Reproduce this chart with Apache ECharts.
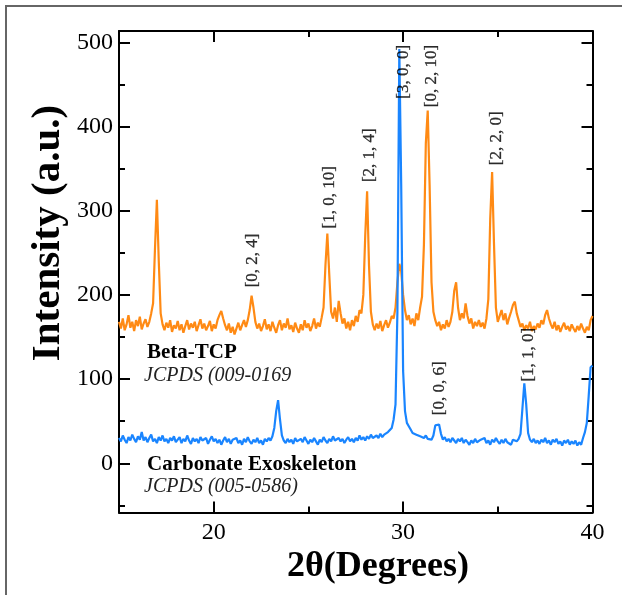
<!DOCTYPE html>
<html>
<head>
<meta charset="utf-8">
<script src="https://cdn.jsdelivr.net/npm/echarts@6/dist/echarts.min.js"></script>
<style>
html,body{margin:0;padding:0;background:#fff;}
#c{width:622px;height:595px;}
</style>
</head>
<body>
<div id="c"></div>
<script>
// 2θ sampling of both patterns
var thetaStart = 15.0;
var thetaStep = 0.1;

// Beta-TCP (orange) intensity, 15.0 .. 40.0 step 0.1
var betaTCP = [
168,160,172,158,165,176,161,168,157,170,
163,174,159,166,171,162,168,178,190,255,
313,240,178,165,158,167,161,170,156,164,
160,169,158,165,155,163,170,159,166,161,
168,157,164,171,160,166,158,163,169,157,
165,160,170,176,181,172,164,158,166,155,
162,153,160,167,158,164,170,162,170,182,
199,185,168,160,166,157,163,171,159,165,
157,168,161,155,164,170,158,166,161,172,
159,164,156,167,160,155,165,158,170,161,
166,157,163,172,160,167,162,173,185,235,
273,225,180,172,185,168,193,178,166,172,
160,168,158,170,163,175,168,182,178,200,
270,323,235,180,165,158,166,160,169,157,
164,170,161,167,175,172,185,215,237,228,
200,182,170,176,165,172,163,178,170,185,
198,260,380,419,330,215,180,170,163,168,
158,165,160,170,162,168,180,205,215,185,
170,178,172,190,175,166,172,160,168,163,
170,162,167,160,172,195,290,346,260,185,
168,175,182,170,178,165,173,180,188,192,
178,170,162,166,158,164,160,168,157,163,
159,166,161,170,165,176,182,172,165,160,
168,158,164,156,162,167,159,163,157,165,
160,156,163,158,166,160,155,162,158,170,
175
];

// Carbonate exoskeleton (blue) intensity, 15.0 .. 40.0 step 0.1
var carbonate = [
30,26,33,28,24,31,27,34,29,25,
32,28,37,27,31,25,30,34,26,29,
24,31,27,33,26,29,24,30,27,32,
25,28,31,24,29,26,33,27,23,30,
26,29,24,31,27,25,30,23,28,32,
26,29,24,28,22,27,31,25,29,23,
28,26,30,24,27,22,29,25,31,26,
23,28,25,30,24,27,22,29,26,30,
27,32,42,62,75,52,33,27,24,29,
25,28,23,30,26,24,29,25,31,27,
23,28,25,30,26,22,28,25,31,27,
24,29,26,32,27,25,30,26,29,24,
28,31,26,29,25,30,27,33,28,31,
27,32,29,34,30,28,33,30,35,31,
34,32,37,35,42,52,70,180,492,330,
110,62,48,44,40,36,38,34,36,32,
34,30,33,29,31,28,33,45,47,46,
35,28,31,26,29,25,30,27,24,29,
26,30,24,28,25,22,27,24,29,25,
23,28,26,30,24,27,22,28,25,30,
26,23,28,24,29,25,27,22,28,30,
26,29,35,65,95,70,36,28,25,29,
24,27,23,28,25,30,24,27,22,28,
25,29,23,26,21,27,24,28,22,26,
23,27,21,25,22,30,37,48,80,114,
116
];

// Miller index annotations: [2θ, intensity at label base]
var hklNames = ['[0, 2, 4]','[1, 0, 10]','[2, 1, 4]','[3, 0, 0]','[0, 2, 10]','[2, 2, 0]','[0, 0, 6]','[1, 1, 0]'];
var hklTheta = [22.07, 26.13, 28.24, 30.0, 31.5, 34.93, 31.94, 36.6];
var hklBase  = [209, 279, 334, 433, 423, 354, 57, 97];

// axis ticks
var xMajor = [20, 30, 40];
var xMinor = [25, 35];
var yMajor = [0, 100, 200, 300, 400, 500];
var yMinor = [-50, 50, 150, 250, 350, 450];

var FONT = "'Liberation Serif','Times New Roman',serif";

function pairs(arr){
  var out = [];
  for (var i = 0; i < arr.length; i++) {
    out.push([+(thetaStart + i * thetaStep).toFixed(2), arr[i]]);
  }
  return out;
}
var hklData = hklNames.map(function(n, i){ return {name: n, value: [hklTheta[i], hklBase[i]]}; });

var XMIN = 15, XMAX = 40, YMIN = -58.5, YMAX = 513.5;

function xAx(pos, ticks, len, showLine, labels){
  return {
    type: 'value', position: pos, min: XMIN, max: XMAX,
    axisLine: {show: showLine, onZero: false, lineStyle: {color: '#000', width: 2}},
    axisTick: {show: true, inside: true, length: len, customValues: ticks, lineStyle: {color: '#000', width: 2}},
    axisLabel: labels ? {show: true, customValues: labels, color: '#000', fontFamily: FONT, fontSize: 24, margin: 8} : {show: false},
    splitLine: {show: false}
  };
}
function yAx(pos, ticks, len, showLine, labels){
  return {
    type: 'value', position: pos, min: YMIN, max: YMAX,
    axisLine: {show: showLine, onZero: false, lineStyle: {color: '#000', width: 2}},
    axisTick: {show: true, inside: true, length: len, customValues: ticks, lineStyle: {color: '#000', width: 2}},
    axisLabel: labels ? {show: true, customValues: labels, color: '#000', fontFamily: FONT, fontSize: 24, margin: 6} : {show: false},
    splitLine: {show: false}
  };
}

var chart = echarts.init(document.getElementById('c'), null, {renderer: 'canvas'});
chart.setOption({
  backgroundColor: '#fff',
  animation: false,
  grid: {left: 119, top: 31, width: 473.5, height: 481.5, containLabel: false},
  xAxis: [
    xAx('bottom', xMajor, 11, true, xMajor),
    xAx('bottom', xMinor, 6, false, null),
    xAx('top', xMajor, 11, true, null),
    xAx('top', xMinor, 6, false, null)
  ],
  yAxis: [
    yAx('left', yMajor, 11, true, yMajor),
    yAx('left', yMinor, 6, false, null),
    yAx('right', yMajor, 11, true, null),
    yAx('right', yMinor, 6, false, null)
  ],
  series: [
    {
      name: 'Beta-TCP', type: 'line', xAxisIndex: 0, yAxisIndex: 0,
      data: pairs(betaTCP), showSymbol: false, symbol: 'none',
      lineStyle: {color: '#ff8a14', width: 2.2}, z: 2
    },
    {
      name: 'Carbonate Exoskeleton', type: 'line', xAxisIndex: 0, yAxisIndex: 0,
      data: pairs(carbonate), showSymbol: false, symbol: 'none',
      lineStyle: {color: '#1a85ff', width: 2.2}, z: 3
    },
    {
      name: 'hkl', type: 'scatter', xAxisIndex: 0, yAxisIndex: 0,
      data: hklData, symbolSize: 0, z: 4,
      label: {
        show: true, position: [0, 0], rotate: 90, align: 'left', verticalAlign: 'middle',
        formatter: function(p){ return p.name; },
        color: '#000', fontFamily: FONT, fontSize: 17, textBorderColor: '#000', textBorderWidth: 0.3
      }
    }
  ],
  graphic: [
    {type: 'rect', shape: {x: 6, y: 6, width: 640, height: 640}, style: {fill: 'none', stroke: '#666', lineWidth: 2}, silent: true, z: -1},
    {type: 'text', x: 48, y: 233, rotation: Math.PI / 2,
     style: {text: 'Intensity (a.u.)', fontFamily: FONT, fontWeight: 'bold', fontSize: 41, fill: '#000', textAlign: 'center', textVerticalAlign: 'middle'}},
    {type: 'text', x: 378, y: 567,
     style: {text: '2θ(Degrees)', fontFamily: FONT, fontWeight: 'bold', fontSize: 36, fill: '#000', textAlign: 'center', textVerticalAlign: 'middle'}},
    {type: 'text', x: 147, y: 353,
     style: {text: 'Beta-TCP', fontFamily: FONT, fontWeight: 'bold', fontSize: 21, fill: '#000', textAlign: 'left', textVerticalAlign: 'middle'}},
    {type: 'text', x: 144, y: 376,
     style: {text: 'JCPDS (009-0169', fontFamily: FONT, fontStyle: 'italic', fontSize: 20, fill: '#222', textAlign: 'left', textVerticalAlign: 'middle'}},
    {type: 'text', x: 147, y: 465,
     style: {text: 'Carbonate Exoskeleton', fontFamily: FONT, fontWeight: 'bold', fontSize: 21, fill: '#000', textAlign: 'left', textVerticalAlign: 'middle'}},
    {type: 'text', x: 144, y: 487,
     style: {text: 'JCPDS (005-0586)', fontFamily: FONT, fontStyle: 'italic', fontSize: 20, fill: '#222', textAlign: 'left', textVerticalAlign: 'middle'}}
  ]
});
</script>
</body>
</html>
